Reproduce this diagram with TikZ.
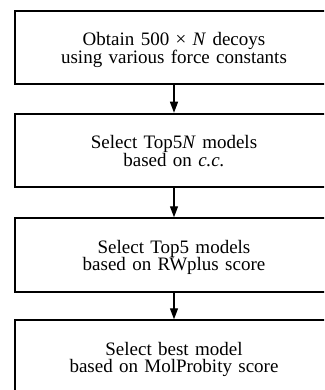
\documentclass[tikz,border=0pt]{standalone}
\usepackage{fontspec}
\setmainfont{Liberation Serif}
\usetikzlibrary{arrows.meta}
\begin{document}
\begin{tikzpicture}[x=1pt,y=-1pt,
  stepbox/.style={draw, line width=2pt, minimum width=318pt, minimum height=73.5pt,
    inner sep=0pt, align=center, text width=310pt, text height=17pt, text depth=21pt,
    font=\fontsize{19pt}{17.5pt}\selectfont},
  flowarrow/.style={line width=1.3pt, -{Triangle[length=11pt,width=8pt]}}]
\useasboundingbox (0,0) rectangle (324,390);
\clip (0,0) rectangle (324,390);
\node[stepbox] (b1) at (174,47.75) {Obtain 500 × \textit{N} decoys\\using various force constants};
\node[stepbox] (b2) at (174,150.5) {Select Top5\textit{N} models\\based on \textit{c.c.}};
\node[stepbox] (b3) at (174,255) {Select Top5 models\\based on RWplus score};
\node[stepbox] (b4) at (174,357) {Select best model\\based on MolProbity score};
\draw[flowarrow] (b1.south) -- (b2.north);
\draw[flowarrow] (b2.south) -- (b3.north);
\draw[flowarrow] (b3.south) -- (b4.north);
\end{tikzpicture}
\end{document}
